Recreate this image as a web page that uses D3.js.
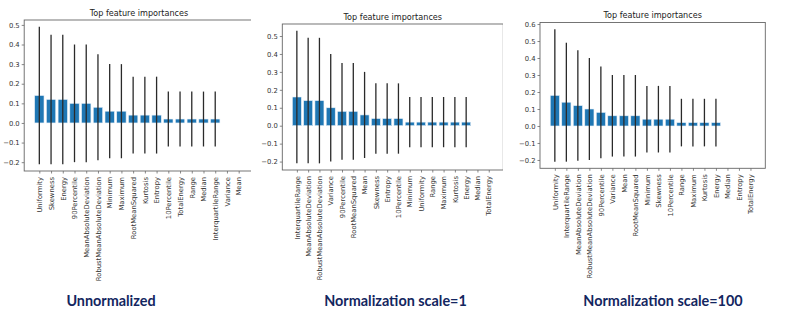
<!DOCTYPE html>
<html lang="en">
<head>
<meta charset="utf-8">
<title>Top feature importances</title>
<script src="https://d3js.org/d3.v7.min.js"></script>
<style>
    body { margin: 0; background: #fff; }
    svg { display: block; }
    .tick text { font-family: "DejaVu Sans", sans-serif; font-size: 6.8px; fill: #333; }
    .title { font-family: "DejaVu Sans", sans-serif; font-size: 8.1px; fill: #222; }
    .caption { font-family: Lato, "Open Sans", sans-serif; font-weight: bold; font-size: 14.4px; fill: #132660; }
</style>
</head>
<body>
<svg id="chart" width="794" height="336"></svg>
<script>
    // feature names, importances and std, sorted as in each panel
    const featuresA = ["Uniformity", "Skewness", "Energy", "90Percentile", "MeanAbsoluteDeviation",
        "RobustMeanAbsoluteDeviation", "Minimum", "Maximum", "RootMeanSquared", "Kurtosis", "Entropy",
        "10Percentile", "TotalEnergy", "Range", "Median", "InterquartileRange", "Variance", "Mean"];
    const importA = [0.14, 0.12, 0.12, 0.10, 0.10, 0.08, 0.06, 0.06, 0.04, 0.04, 0.04, 0.02, 0.02, 0.02, 0.02, 0.02, 0, 0];
    const stdA = [0.35, 0.33, 0.33, 0.30, 0.30, 0.27, 0.24, 0.24, 0.196, 0.196, 0.196, 0.14, 0.14, 0.14, 0.14, 0.14, 0, 0];

    const featuresB = ["InterquartileRange", "MeanAbsoluteDeviation", "RobustMeanAbsoluteDeviation", "Variance",
        "90Percentile", "RootMeanSquared", "Mean", "Skewness", "Entropy", "10Percentile", "Minimum", "Uniformity",
        "Range", "Maximum", "Kurtosis", "Energy", "Median", "TotalEnergy"];
    const importB = [0.16, 0.14, 0.14, 0.10, 0.08, 0.08, 0.06, 0.04, 0.04, 0.04, 0.02, 0.02, 0.02, 0.02, 0.02, 0.02, 0, 0];
    const stdB = [0.37, 0.35, 0.35, 0.30, 0.27, 0.27, 0.24, 0.196, 0.196, 0.196, 0.14, 0.14, 0.14, 0.14, 0.14, 0.14, 0, 0];

    const featuresC = ["Uniformity", "InterquartileRange", "MeanAbsoluteDeviation", "RobustMeanAbsoluteDeviation",
        "90Percentile", "Variance", "Mean", "RootMeanSquared", "Minimum", "Skewness", "10Percentile", "Range",
        "Maximum", "Kurtosis", "Energy", "Median", "Entropy", "TotalEnergy"];
    const importC = [0.18, 0.14, 0.12, 0.10, 0.08, 0.06, 0.06, 0.06, 0.04, 0.04, 0.04, 0.02, 0.02, 0.02, 0.02, 0, 0, 0];
    const stdC = [0.39, 0.35, 0.325, 0.30, 0.27, 0.24, 0.24, 0.24, 0.196, 0.196, 0.196, 0.14, 0.14, 0.14, 0.14, 0, 0, 0];

    const captions = ["Unnormalized", "Normalization scale=1", "Normalization scale=100"];

    // panel boxes in the screenshot (cropR = where the screenshot cut the axes off)
    const panels = [
        {feat: featuresA, imp: importA, std: stdA, left: 24.2, right: 253.8, top: 20, bottom: 171, cropR: 251, capX: 111, titleY: 16},
        {feat: featuresB, imp: importB, std: stdB, left: 282.3, right: 503.3, top: 24, bottom: 170, cropR: 503, capX: 395.5, titleY: 19.5},
        {feat: featuresC, imp: importC, std: stdC, left: 540, right: 765.3, top: 22.5, bottom: 168.3, cropR: 766, capX: 663, titleY: 18}
    ];

    const svg = d3.select("#chart");
    svg.append("rect").attr("width", 794).attr("height", 336).attr("fill", "#fff");

    panels.forEach((p, k) => {
        const n = p.feat.length;
        const rows = p.feat.map((f, i) => ({name: f, i: i, v: p.imp[i], s: p.std[i]}));

        // matplotlib style autoscale: 5% margins around data
        const x0 = -0.4, x1 = n - 1 + 0.4, xm = (x1 - x0) * 0.05;
        const x = d3.scaleLinear().domain([x0 - xm, x1 + xm]).range([p.left, p.right]);
        const lo = d3.min(rows, d => d.v - d.s), hi = d3.max(rows, d => d.v + d.s), ym = (hi - lo) * 0.05;
        const y = d3.scaleLinear().domain([lo - ym, hi + ym]).range([p.bottom, p.top]);

        const g = svg.append("g");
        const clipId = "clip" + k;
        svg.append("clipPath").attr("id", clipId)
            .append("rect").attr("x", 0).attr("y", 0).attr("width", p.cropR).attr("height", 336);
        g.attr("clip-path", `url(#${clipId})`);

        // bars
        g.selectAll("rect.bar")
            .data(rows.filter(d => d.v > 0))
            .enter()
            .append("rect")
            .attr("class", "bar")
            .attr("x", d => x(d.i - 0.4))
            .attr("width", d => x(d.i + 0.4) - x(d.i - 0.4))
            .attr("y", d => y(d.v))
            .attr("height", d => y(0) - y(d.v))
            .attr("fill", "#1f77b4")
            .attr("stroke", "#e8f0f8")
            .attr("stroke-width", 0.6);

        // error bars
        g.selectAll("line.err")
            .data(rows.filter(d => d.s > 0))
            .enter()
            .append("line")
            .attr("class", "err")
            .attr("x1", d => x(d.i)).attr("x2", d => x(d.i))
            .attr("y1", d => y(d.v + d.s)).attr("y2", d => y(d.v - d.s))
            .attr("stroke", "#2a2a2a")
            .attr("stroke-width", 1.3);

        // axes
        const yAxis = d3.axisLeft(y).ticks(8).tickFormat(d3.format(".1f")).tickSize(2.5).tickPadding(2);
        const ya = g.append("g").attr("transform", `translate(${p.left},0)`).call(yAxis);
        ya.select(".domain").remove();
        ya.selectAll(".tick line").attr("stroke", "#555").attr("stroke-width", 0.7);

        const xAxis = d3.axisBottom(x).tickValues(d3.range(n)).tickFormat(i => p.feat[i]).tickSize(2.5).tickPadding(3);
        const xa = g.append("g").attr("transform", `translate(0,${p.bottom})`).call(xAxis);
        xa.select(".domain").remove();
        xa.selectAll(".tick line").attr("stroke", "#555").attr("stroke-width", 0.7);
        xa.selectAll(".tick text")
            .attr("text-anchor", "end")
            .attr("transform", "translate(0,6) rotate(-90)")
            .attr("x", 0).attr("y", 0).attr("dy", "0.33em");

        // spines
        g.append("rect")
            .attr("x", p.left).attr("y", p.top)
            .attr("width", p.right - p.left).attr("height", p.bottom - p.top)
            .attr("fill", "none").attr("stroke", "#666").attr("stroke-width", 0.9);

        svg.append("text").attr("class", "title")
            .attr("x", (p.left + p.right) / 2).attr("y", p.titleY)
            .attr("text-anchor", "middle")
            .text("Top feature importances");

        svg.append("text").attr("class", "caption")
            .attr("x", p.capX).attr("y", 305.5)
            .attr("text-anchor", "middle")
            .text(captions[k]);
    });
</script>
</body>
</html>
